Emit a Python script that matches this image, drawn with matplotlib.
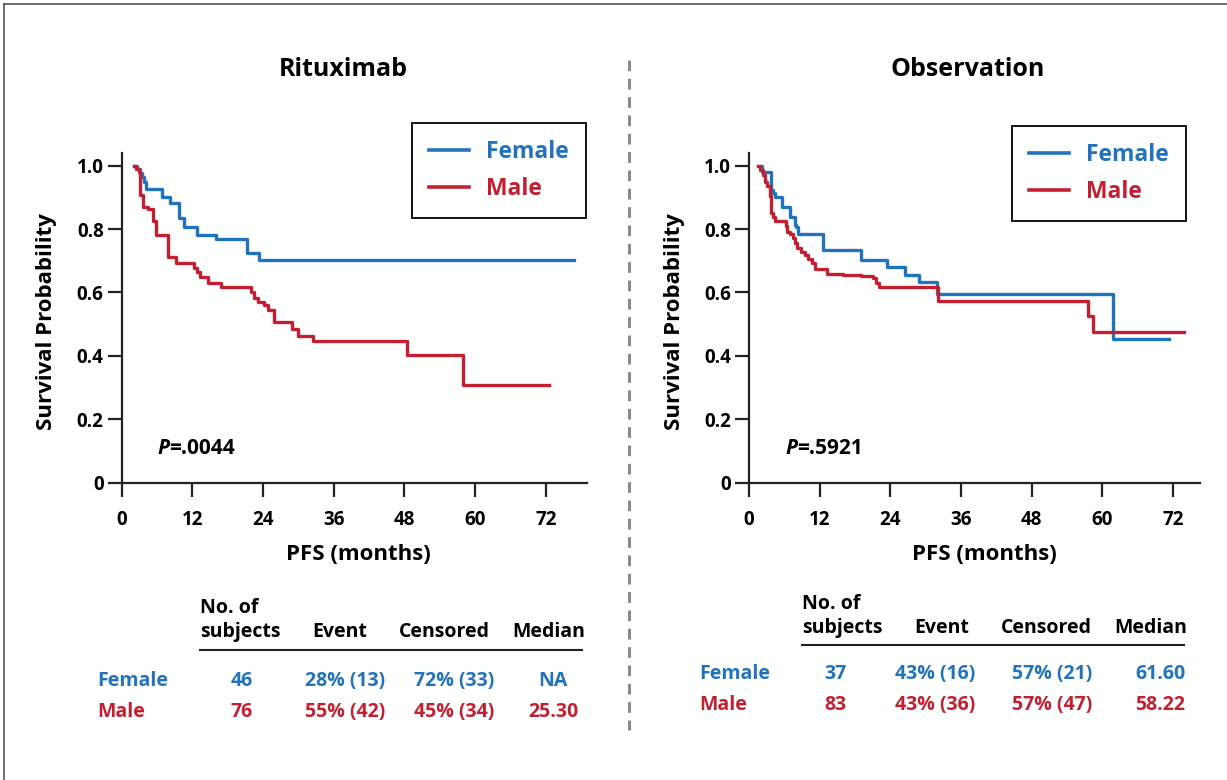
import matplotlib
matplotlib.use('Agg')
import matplotlib.pyplot as plt
from matplotlib.lines import Line2D

# ------------
#    DATA
# ------------
# Rituximab arm, Kaplan-Meier steps (months, survival)
rit_female_t = [2.1, 2.6, 3.1, 3.4, 3.8, 4.1, 6.8, 8.2, 9.7, 10.5, 12.7, 16.0, 21.2, 23.3, 76.8]
rit_female_s = [1.0, 0.99, 0.976, 0.965, 0.95, 0.925, 0.902, 0.881, 0.834, 0.806, 0.781, 0.768, 0.726, 0.703, 0.703]

rit_male_t = [2.1, 2.5, 2.9, 3.1, 3.7, 4.5, 5.3, 5.9, 7.8, 9.2, 12.3, 12.8, 13.3, 14.6, 16.8,
              21.9, 22.4, 23.2, 24.1, 24.9, 25.8, 28.9, 30.0, 32.5, 48.5, 58.0, 72.6]
rit_male_s = [1.0, 0.99, 0.98, 0.908, 0.869, 0.862, 0.827, 0.781, 0.711, 0.692, 0.678, 0.664, 0.650, 0.629, 0.616,
              0.600, 0.582, 0.571, 0.561, 0.545, 0.508, 0.484, 0.463, 0.448, 0.403, 0.308, 0.308]

# Observation arm
obs_female_t = [2.1, 2.15, 3.7, 4.0, 4.4, 5.6, 7.0, 7.8, 8.0, 8.3, 12.5, 19.0, 23.4, 26.5, 28.9, 32.0, 61.9, 71.3]
obs_female_s = [1.0, 0.981, 0.923, 0.913, 0.900, 0.869, 0.839, 0.813, 0.808, 0.785, 0.734, 0.703, 0.679, 0.655, 0.634, 0.594, 0.453, 0.453]

obs_male_t = [1.5, 1.9, 2.3, 2.7, 3.1, 3.5, 3.7, 4.1, 4.5, 6.25, 6.4, 6.9, 7.5, 7.8, 8.1, 8.8, 9.5, 10.1,
              10.7, 11.2, 13.2, 16.0, 19.0, 21.1, 21.5, 22.0, 32.1, 57.5, 58.5, 73.8]
obs_male_s = [1.0, 0.985, 0.97, 0.95, 0.935, 0.905, 0.850, 0.838, 0.826, 0.81, 0.792, 0.785, 0.771, 0.755, 0.739, 0.728, 0.718, 0.705,
              0.692, 0.673, 0.658, 0.655, 0.651, 0.647, 0.630, 0.616, 0.573, 0.526, 0.476, 0.476]

group_names = ['Female', 'Male']
panel_titles = ['Rituximab', 'Observation']
p_values = ['=.0044', '=.5921']
x_ticks = [0, 12, 24, 36, 48, 60, 72]
y_ticks = [0, 0.2, 0.4, 0.6, 0.8, 1.0]
y_tick_labels = ['0', '0.2', '0.4', '0.6', '0.8', '1.0']

table_header = ['Event', 'Censored', 'Median']
rit_subjects = ['46', '76']
rit_event = ['28% (13)', '55% (42)']
rit_censored = ['72% (33)', '45% (34)']
rit_median = ['NA', '25.30']
obs_subjects = ['37', '83']
obs_event = ['43% (16)', '43% (36)']
obs_censored = ['57% (21)', '57% (47)']
obs_median = ['61.60', '58.22']

BLUE = '#2174bb'
RED = '#c41f30'
FONT = 'Open Sans'
WEIGHT = 'bold'

W, H = 1227, 780


def fx(px):
    return px / W


def fy(py):
    return 1 - py / H


def draw_panel(fig, rect, xmax, curves, p_text, p_x, ylab_x, xlab_x, legend_anchor):
    """ draw one Kaplan-Meier panel """
    ax = fig.add_axes(rect)
    for (t, s, name, color) in curves:
        ax.step(t, s, where='post', color=color, lw=2.4, label=name)
    ax.set_xlim(0, xmax)
    ax.set_ylim(0, 1.04)
    for side in ['top', 'right']:
        ax.spines[side].set_visible(False)
    for side in ['left', 'bottom']:
        ax.spines[side].set_linewidth(1.6)
        ax.spines[side].set_color('#222222')
    ax.set_xticks(x_ticks)
    ax.set_yticks(y_ticks)
    ax.set_yticklabels(y_tick_labels)
    ax.tick_params(axis='both', direction='out', length=10, width=1.6, color='#222222',
                   labelsize=13.5)
    ax.tick_params(axis='x', pad=10)
    ax.tick_params(axis='y', pad=3)
    for lab in ax.get_xticklabels() + ax.get_yticklabels():
        lab.set_fontweight(WEIGHT)
        lab.set_family(FONT)

    ax.set_ylabel('Survival Probability', fontsize=16, fontweight=WEIGHT, family=FONT)
    ax.yaxis.set_label_coords(ylab_x, 0.49)
    ax.set_xlabel('PFS (months)', fontsize=16, fontweight=WEIGHT, family=FONT)
    ax.xaxis.set_label_coords(xlab_x, -0.185)

    t1 = ax.text(p_x, 0.105, 'P', transform=ax.transAxes, fontsize=15, style='italic',
                 fontweight=WEIGHT, family=FONT, va='center')
    ax.annotate(p_text, xy=(1, 0), xycoords=t1, va='bottom', fontsize=15,
                fontweight=WEIGHT, family=FONT)

    leg = ax.legend(loc='upper right', bbox_to_anchor=legend_anchor, borderaxespad=0,
                    fancybox=False, edgecolor='black', framealpha=1, handlelength=1.75,
                    handletextpad=0.75, labelspacing=0.55, borderpad=0.75,
                    labelcolor='linecolor',
                    prop={'family': FONT, 'weight': WEIGHT, 'size': 16.5})
    leg.get_frame().set_linewidth(1.3)
    for line in leg.get_lines():
        line.set_linewidth(2.6)
    return ax


def draw_table(fig, x_label, y_head, y_line, line_x, y_rows, head_cols, val_cols,
               subjects, event, censored, median):
    """ draw summary table under a panel """
    kw = dict(fontsize=14, fontweight=WEIGHT, family=FONT)
    fig.text(fx(line_x[0]), fy(y_head - 24), 'No. of', ha='left', va='center', **kw)
    fig.text(fx(line_x[0]), fy(y_head), 'subjects', ha='left', va='center', **kw)
    for name, cx in zip(table_header, head_cols):
        fig.text(fx(cx), fy(y_head), name, ha='center', va='center', **kw)
    fig.add_artist(Line2D([fx(line_x[0]), fx(line_x[1])], [fy(y_line), fy(y_line)],
                          color='#222222', lw=1.5))
    colors = [BLUE, RED]
    for i in range(2):
        fig.text(fx(x_label), fy(y_rows[i]), group_names[i], ha='left', va='center',
                 color=colors[i], **kw)
        cells = [subjects[i], event[i], censored[i], median[i]]
        for cell, cx in zip(cells, val_cols):
            fig.text(fx(cx), fy(y_rows[i]), cell, ha='center', va='center',
                     color=colors[i], **kw)


def main():
    fig = plt.figure(figsize=(W / 100, H / 100), dpi=100)

    bottom = fy(482.7)
    height = (482.7 - 153) / H

    draw_panel(fig, [fx(121.7), bottom, (587 - 121.7) / W, height], 79.0,
               [(rit_female_t, rit_female_s, group_names[0], BLUE),
                (rit_male_t, rit_male_s, group_names[1], RED)],
               p_values[0], 0.076, -0.138, 0.509, (0.998, 1.091))
    draw_panel(fig, [fx(749), bottom, (1200 - 749) / W, height], 76.6,
               [(obs_female_t, obs_female_s, group_names[0], BLUE),
                (obs_male_t, obs_male_s, group_names[1], RED)],
               p_values[1], 0.080, -0.143, 0.521, (0.969, 1.082))

    fig.text(fx(343), fy(70), panel_titles[0], ha='center', va='center', fontsize=18,
             fontweight=WEIGHT, family=FONT)
    fig.text(fx(968), fy(70), panel_titles[1], ha='center', va='center', fontsize=18,
             fontweight=WEIGHT, family=FONT)

    draw_table(fig, 97, 632, 650, (200, 582), (681, 712),
               [340, 444, 549], [242, 345, 454, 553],
               rit_subjects, rit_event, rit_censored, rit_median)
    draw_table(fig, 699, 628, 645, (802, 1184), (674, 705),
               [942, 1046, 1151], [835, 935, 1052, 1160],
               obs_subjects, obs_event, obs_censored, obs_median)

    # separator and frame
    fig.add_artist(Line2D([fx(629), fx(629)], [fy(60), fy(730)], color='#8a8a8a', lw=2.2,
                          linestyle=(0, (3.5, 2.5))))
    fig.add_artist(Line2D([fx(4), fx(1227)], [fy(4), fy(4)], color='#555555', lw=1.2))
    fig.add_artist(Line2D([fx(4), fx(4)], [fy(4), fy(780)], color='#555555', lw=1.2))

    fig.savefig('out.png', dpi=100)


if __name__ == '__main__':
    main()
